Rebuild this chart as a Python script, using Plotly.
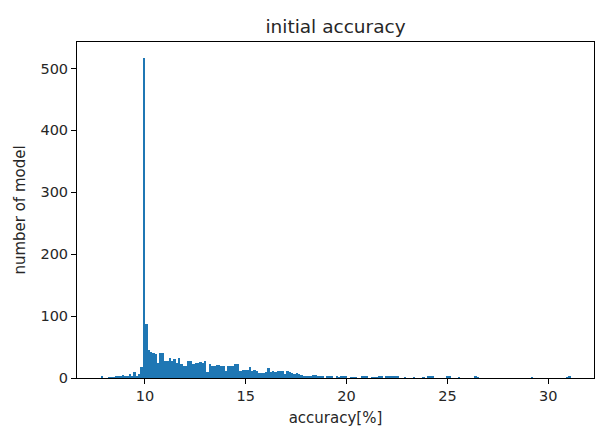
import plotly.graph_objects as go

# Histogram of initial accuracy: 200 equal bins between the data min and max
acc_min = 7.8
acc_max = 31.1
counts = [
    2, 0, 0, 1, 1, 1, 2, 2, 2, 5, 2, 2, 6, 4, 9, 4, 6, 17,        # 0-17
    517,                                                           # 18
    88, 46, 42, 40, 38, 25, 41, 40, 27, 27, 33, 27, 31, 25, 33,   # 19-33
    22, 19, 19, 27, 27, 23, 25,                                    # 34-40
    25, 26, 24, 28, 10, 23, 20, 20, 21, 21, 20, 20, 12, 19, 19,   # 41-55
    19, 23, 23, 12, 13, 13, 13, 17,                                # 56-63
    12, 13, 12, 8, 8, 8, 9, 16, 10, 11, 9, 11, 11, 11, 7, 12,     # 64-79
    9, 8, 7, 8, 6, 5,                                              # 80-85
    3, 3, 3, 4, 5, 5, 4, 3, 2, 0, 2, 2, 2, 0, 2, 1, 3, 3, 3,      # 86-104
    0, 1, 1, 1, 0, 0, 2, 2, 2, 0, 1, 1, 1, 2, 2, 0,               # 105-120
    3, 3, 2, 2, 2, 2, 0, 0, 1, 0, 0, 0, 1, 0, 0, 0, 1, 0,         # 121-138
    2, 2, 2, 0, 0, 0, 0, 0, 3, 2, 0, 0, 0, 1, 0, 0, 0, 0,         # 139-156
    0, 0, 2, 1, 0, 0, 0, 0, 0, 0, 0, 0, 0, 0, 0, 0, 0, 0,         # 157-174
    0, 0, 0, 0, 0, 0, 0, 0, 1, 0, 0, 0, 0, 0, 0, 0, 0, 0,         # 175-192
    0, 0, 0, 0, 0, 1, 2,                                           # 193-199
]

x_ticks = [10, 15, 20, 25, 30]
y_ticks = [0, 100, 200, 300, 400, 500]

nbins = len(counts)
width = (acc_max - acc_min) / nbins
centers = [acc_min + (i + 0.5) * width for i in range(nbins)]

span = acc_max - acc_min
x_range = [acc_min - 0.05 * span, acc_max + 0.05 * span]
y_range = [0, max(counts) * 1.05]

fig = go.Figure(go.Bar(
    x=centers, y=counts, width=width,
    marker=dict(color="#1f77b4", line=dict(width=0)),
))

font_family = "DejaVu Sans"
text_color = "#262626"
axis_common = dict(
    showline=True, linecolor="#000000", linewidth=1, mirror=True,
    ticks="outside", ticklen=5, tickwidth=1, tickcolor="#000000",
    showgrid=False, zeroline=False, automargin=False,
    tickfont=dict(family=font_family, size=14.5, color=text_color),
)

W, H = 595, 427
fig.update_layout(
    width=W, height=H,
    autosize=False,
    margin=dict(l=77, r=1, t=42, b=49, autoexpand=False),
    paper_bgcolor="white", plot_bgcolor="white",
    bargap=0,
    showlegend=False,
    title=dict(text="initial accuracy", x=0.5, xanchor="center", xref="paper",
               y=1 - 27 / H, yanchor="middle", yref="container", automargin=False,
               font=dict(family=font_family, size=18.5, color=text_color)),
    xaxis=dict(range=x_range, tickvals=x_ticks, **axis_common,
               title=dict(text="accuracy[%]", standoff=9,
                          font=dict(family=font_family, size=15, color=text_color))),
    yaxis=dict(range=y_range, tickvals=y_ticks, **axis_common,
               title=dict(text="number of model", standoff=11,
                          font=dict(family=font_family, size=15, color=text_color))),
)

post = (
    "document.body.style.margin='0px';"
    "document.body.style.overflow='hidden';"
)

fig.write_html("out.html", config={"responsive": False, "displayModeBar": False},
               post_script=post)
